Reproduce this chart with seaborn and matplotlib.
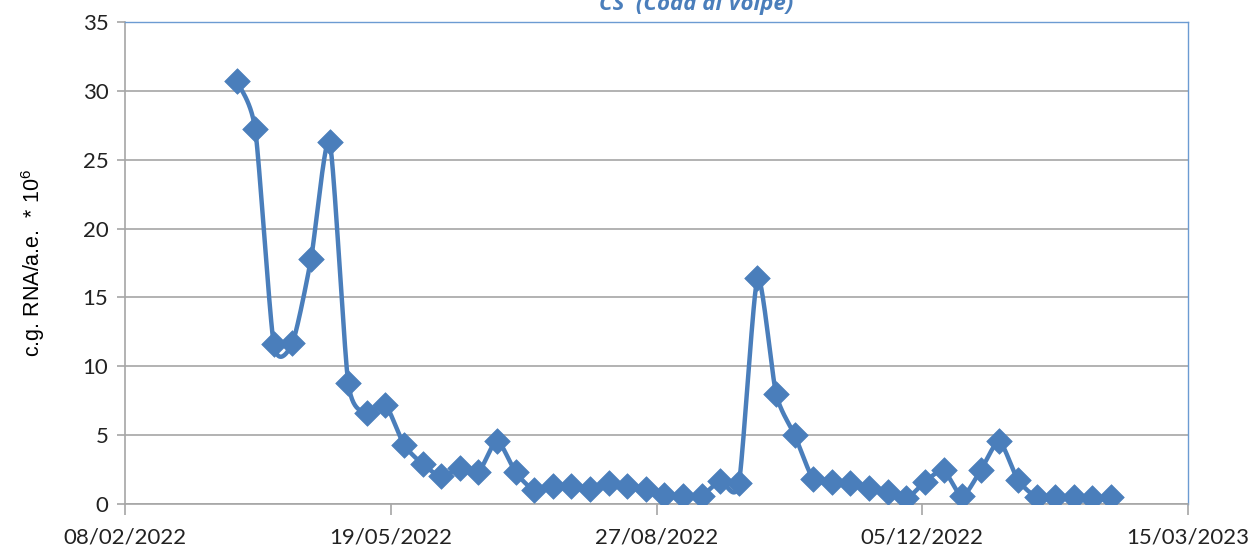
import numpy as np
import pandas as pd
import seaborn as sns
import matplotlib.pyplot as plt
import matplotlib.dates as mdates

# Sampling dates (weekly)
dates = [
    "2022-03-22", "2022-03-29", "2022-04-05", "2022-04-12", "2022-04-19", "2022-04-26",
    "2022-05-03", "2022-05-10", "2022-05-17", "2022-05-24", "2022-05-31", "2022-06-07",
    "2022-06-14", "2022-06-21", "2022-06-28", "2022-07-05", "2022-07-12", "2022-07-19",
    "2022-07-26", "2022-08-02", "2022-08-09", "2022-08-16", "2022-08-23", "2022-08-30",
    "2022-09-06", "2022-09-13", "2022-09-20", "2022-09-27", "2022-10-04", "2022-10-11",
    "2022-10-18", "2022-10-25", "2022-11-01", "2022-11-08", "2022-11-15", "2022-11-22",
    "2022-11-29", "2022-12-06", "2022-12-13", "2022-12-20", "2022-12-27", "2023-01-03",
    "2023-01-10", "2023-01-17", "2023-01-24", "2023-01-31", "2023-02-07", "2023-02-14",
]
# c.g. RNA / a.e. * 10^6
values = [
    30.7, 27.2, 11.6, 11.7, 17.8, 26.3,
    8.8, 6.6, 7.2, 4.3, 2.9, 2.0,
    2.6, 2.3, 4.6, 2.3, 1.0, 1.3,
    1.3, 1.1, 1.5, 1.3, 1.1, 0.65,
    0.6, 0.6, 1.7, 1.5, 16.4, 8.0,
    5.0, 1.8, 1.6, 1.5, 1.15, 0.9,
    0.4, 1.6, 2.45, 0.55, 2.45, 4.55,
    1.75, 0.5, 0.5, 0.5, 0.4, 0.5,
]
x_ticks = ["2022-02-08", "2022-05-19", "2022-08-27", "2022-12-05", "2023-03-15"]
y_ticks = [0, 5, 10, 15, 20, 25, 30, 35]

title = "CS  (Coda di Volpe)"
ylabel = "c.g. RNA/a.e.  * 10$^{6}$"

blue = "#4A7EBB"

x = mdates.date2num(pd.to_datetime(dates))
y = np.array(values, dtype=float)


# smoothed line like Excel (cardinal spline through the points)
def smooth(px, py, k=1 / 9, steps=30):
    n = len(px)
    sx, sy = [], []
    t = np.linspace(0, 1, steps)
    for i in range(n - 1):
        i0, i3 = max(i - 1, 0), min(i + 2, n - 1)
        p0 = np.array([px[i], py[i]])
        p3 = np.array([px[i + 1], py[i + 1]])
        c1 = p0 + (p3 - np.array([px[i0], py[i0]])) * k
        c2 = p3 - (np.array([px[i3], py[i3]]) - p0) * k
        b = ((1 - t) ** 3)[:, None] * p0 + (3 * (1 - t) ** 2 * t)[:, None] * c1 \
            + (3 * (1 - t) * t ** 2)[:, None] * c2 + (t ** 3)[:, None] * p3
        sx.extend(b[:, 0])
        sy.extend(b[:, 1])
    return np.array(sx), np.array(sy)


cx, cy = smooth(x, y)

sns.set_style("white")
plt.rcParams["font.family"] = ["Lato", "DejaVu Sans"]
plt.rcParams["mathtext.fontset"] = "custom"
plt.rcParams["mathtext.rm"] = "Liberation Sans"
plt.rcParams["mathtext.it"] = "Liberation Sans"

fig = plt.figure(figsize=(12.53, 5.54), dpi=100)
ax = fig.add_axes([125 / 1253, 50 / 554, 1063 / 1253, 482 / 554])

sns.lineplot(x=cx, y=cy, ax=ax, color=blue, linewidth=3.2, sort=False, zorder=3)
sns.scatterplot(x=x, y=y, ax=ax, marker="D", s=170, color=blue, edgecolor=blue,
                linewidth=0.5, zorder=4)

xt = mdates.date2num(pd.to_datetime(x_ticks))
ax.set_xlim(xt[0], xt[-1])
ax.set_ylim(0, 35)
ax.set_xticks(xt)
ax.xaxis.set_major_formatter(mdates.DateFormatter("%d/%m/%Y"))
ax.set_yticks(y_ticks)

ax.grid(axis="y", color="#A6A6A6", linewidth=1.2)
ax.set_axisbelow(True)
for side in ["left", "bottom"]:
    ax.spines[side].set_color("#A6A6A6")
    ax.spines[side].set_linewidth(1.2)
for side in ["top", "right"]:
    ax.spines[side].set_color("#6C9BD2")
    ax.spines[side].set_linewidth(1.0)

ax.tick_params(axis="y", length=6, width=1.2, color="#A6A6A6", left=True, pad=6,
               labelsize=16, labelcolor="#222222")
ax.tick_params(axis="x", length=8, width=1.2, color="#A6A6A6", bottom=True, pad=9,
               labelsize=16, labelcolor="#222222")

ax.set_xlabel("")
ax.set_ylabel(ylabel, fontsize=15.5, family="Liberation Sans", color="black")
ax.yaxis.set_label_coords(-0.073, 0.5)

fig.text(696 / 1253, 1 - 10 / 554, title, ha="center", va="baseline", fontsize=16,
         fontstyle="italic", fontweight="bold", color=blue,
         family=["Open Sans", "DejaVu Sans"])

fig.savefig("out.png", dpi=100)
